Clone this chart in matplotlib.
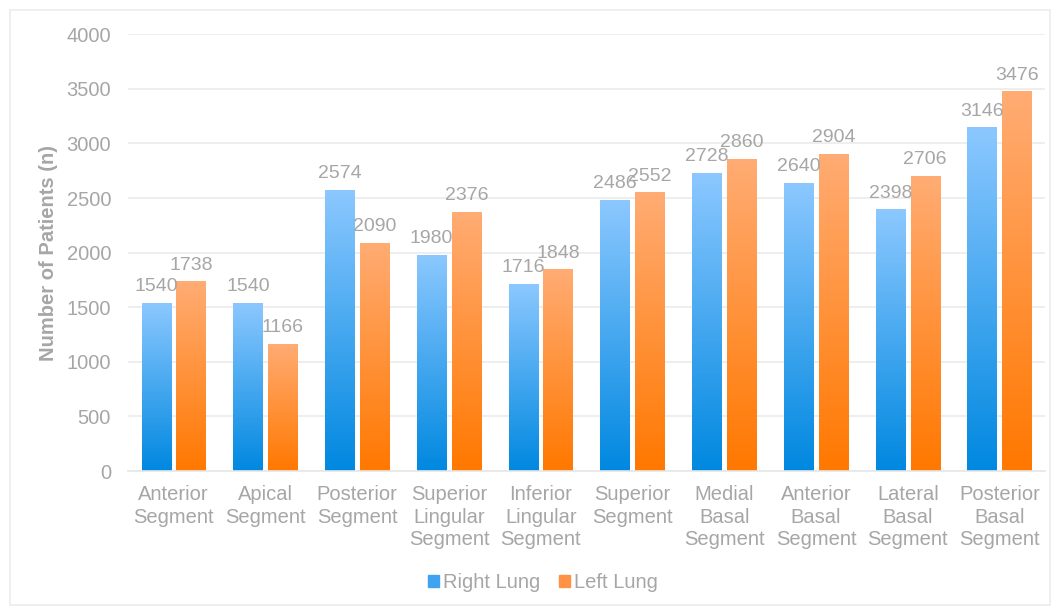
import numpy as np
import matplotlib
matplotlib.use('Agg')
from matplotlib import pyplot as plt
from matplotlib.patches import Rectangle
from matplotlib.colors import LinearSegmentedColormap

plt.rcParams['font.family'] = ['Liberation Sans', 'DejaVu Sans']

segments = ['Anterior\nSegment', 'Apical\nSegment', 'Posterior\nSegment',
            'Superior\nLingular\nSegment', 'Inferior\nLingular\nSegment',
            'Superior\nSegment', 'Medial\nBasal\nSegment', 'Anterior\nBasal\nSegment',
            'Lateral\nBasal\nSegment', 'Posterior\nBasal\nSegment']
right_lung = [1540, 1540, 2574, 1980, 1716, 2486, 2728, 2640, 2398, 3146]
left_lung = [1738, 1166, 2090, 2376, 1848, 2552, 2860, 2904, 2706, 3476]
y_ticks = [0, 500, 1000, 1500, 2000, 2500, 3000, 3500, 4000]

grey = '#a6a6a6'
fs = 14.5
blue_map = LinearSegmentedColormap.from_list('blue', ['#0088e0', '#8cc8ff'])
orange_map = LinearSegmentedColormap.from_list('orange', ['#ff7800', '#ffac74'])

fig = plt.figure(figsize=(10.56, 6.11), dpi=100)
ax = fig.add_axes([0.121, 0.229, 0.869, 0.715])

x = np.arange(len(segments))
w = 0.32
off = 0.19
grad = np.linspace(0, 1, 256).reshape(-1, 1)

def gradient_bars(xs, vals, cmap):
    bars = ax.bar(xs, vals, w, color='none', edgecolor='none')
    for r in bars:
        x0, y0 = r.get_x(), r.get_y()
        im = ax.imshow(grad, cmap=cmap, origin='lower', aspect='auto',
                       extent=[x0, x0 + r.get_width(), y0, y0 + r.get_height()],
                       zorder=2)
        im.set_clip_path(r)
    return bars

gradient_bars(x - off, right_lung, blue_map)
gradient_bars(x + off, left_lung, orange_map)

# value labels above each bar
for xs, vals in [(x - off, right_lung), (x + off, left_lung)]:
    for xi, v in zip(xs, vals):
        ax.text(xi, v + 70, str(v), ha='center', va='bottom', color=grey, fontsize=14)

ax.set_xlim(-0.5, len(segments) - 0.5)
ax.set_ylim(0, 4000)
ax.set_yticks(y_ticks)
ax.set_xticks(x)
ax.set_xticklabels(segments, linespacing=1.25)
ax.tick_params(colors=grey, labelsize=fs, length=0)
ax.tick_params(axis='y', pad=12)
ax.tick_params(axis='x', pad=10)
ax.grid(axis='y', color='#ebebeb', linewidth=1.2)
ax.set_axisbelow(True)
for s in ['top', 'right', 'left']:
    ax.spines[s].set_visible(False)
ax.spines['bottom'].set_color('#e6e6e6')
ax.spines['bottom'].set_linewidth(1.2)
ax.set_ylabel('Number of Patients (n)', color=grey, fontsize=fs,
              fontweight='bold', labelpad=6)

handles = [Rectangle((0, 0), 1, 1, color='#3fa3f0'), Rectangle((0, 0), 1, 1, color='#ff9245')]
fig.legend(handles, ['Right Lung', 'Left Lung'], loc='center', bbox_to_anchor=(0.514, 0.046),
           ncol=2, frameon=False, fontsize=fs, labelcolor=grey, handlelength=0.55,
           handleheight=0.55, handletextpad=0.2, columnspacing=0.9)

fig.patches.append(Rectangle((0.009, 0.01), 0.985, 0.973, transform=fig.transFigure,
                             fill=False, edgecolor='#ececec', linewidth=1.2))

fig.savefig('out.png', dpi=100)
